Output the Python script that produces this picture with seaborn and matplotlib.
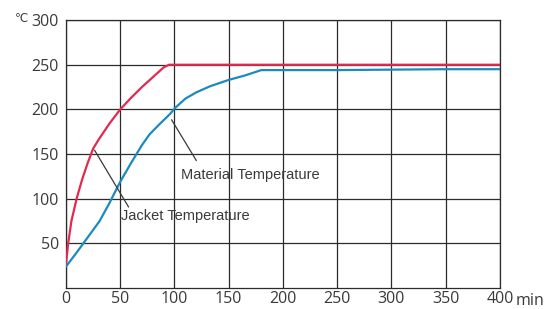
import pandas as pd
import matplotlib.pyplot as plt
import seaborn as sns

# values (minutes, degrees C)
jacket_min = [0, 2, 5, 10, 15, 20, 25, 30, 40, 50, 60, 70, 80, 90, 95, 100, 150, 200, 250, 300, 350, 400]
jacket_temp = [27, 50, 75, 101, 122, 140, 156, 166, 184, 200, 213, 225, 236, 247, 250, 250, 250, 250, 250, 250, 250, 250]

material_min = [0, 10, 16, 31, 40, 50, 60, 70, 77, 85, 96, 100, 110, 120, 133, 150, 165, 180, 200, 250, 300, 350, 400]
material_temp = [24, 40, 50, 75, 95, 119, 140, 160, 172, 182, 195, 201, 212, 219, 226, 233, 238, 244, 244, 244, 244.5, 245, 245]

x_ticks = [0, 50, 100, 150, 200, 250, 300, 350, 400]
y_ticks = [50, 100, 150, 200, 250, 300]

RED = "#e5294e"
BLUE = "#1b8bbf"
GRID = "#2b2b2b"
TXT = "#3a3a3a"


def main():
    sns.set_theme(style="white")
    plt.rcParams['font.family'] = ['Open Sans', 'DejaVu Sans']

    df = pd.concat([
        pd.DataFrame({'min': jacket_min, 'temp': jacket_temp, 'series': 'Jacket'}),
        pd.DataFrame({'min': material_min, 'temp': material_temp, 'series': 'Material'}),
    ], ignore_index=True)

    fig = plt.figure(figsize=(5.5, 3.09), dpi=100)
    ax = fig.add_axes([0.12, 0.068, 0.789, 0.867])

    sns.lineplot(data=df, x='min', y='temp', hue='series',
                 palette={'Jacket': RED, 'Material': BLUE},
                 linewidth=1.6, legend=False, ax=ax, zorder=3)

    ax.set_xlim(0, 400)
    ax.set_ylim(0, 300)
    ax.set_xticks(x_ticks)
    ax.set_yticks(y_ticks)
    ax.set_xlabel('')
    ax.set_ylabel('')
    ax.grid(True, color=GRID, linewidth=0.9)
    for s in ax.spines.values():
        s.set_color(GRID)
        s.set_linewidth(0.9)
    ax.tick_params(axis='both', length=0, labelsize=11.5, labelcolor=TXT)
    ax.tick_params(axis='x', pad=2)
    ax.tick_params(axis='y', pad=5)

    # unit labels
    fig.text(0.027, 0.94, '℃', fontsize=8.5, color=TXT, va='center', ha='left')
    ax.text(1.037, -0.05, 'min', transform=ax.transAxes, fontsize=11.5,
            color=TXT, va='center', ha='left')

    # curve labels with leader lines
    lbl = dict(fontsize=10.5, color=TXT, va='center', family=['Liberation Sans', 'DejaVu Sans'])
    ax.annotate('', xy=(96, 191), xytext=(121.5, 140),
                arrowprops=dict(arrowstyle='-', color=TXT, lw=0.9))
    ax.text(106, 127, 'Material Temperature', **lbl)
    ax.annotate('', xy=(25, 157), xytext=(59, 88),
                arrowprops=dict(arrowstyle='-', color=TXT, lw=0.9))
    ax.text(51, 81, 'Jacket Temperature', **lbl)

    fig.savefig('out.png', dpi=100)
    plt.close(fig)


if __name__ == "__main__":
    main()
